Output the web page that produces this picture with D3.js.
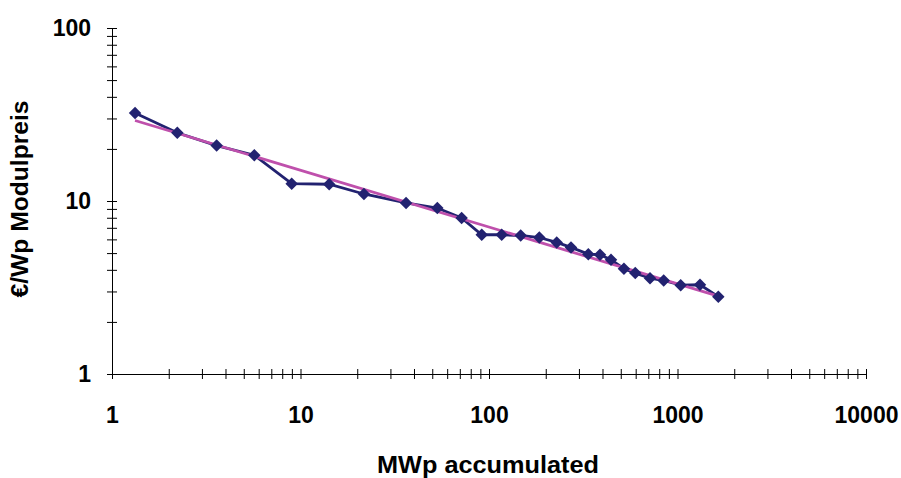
<!DOCTYPE html>
<html>
<head>
<meta charset="utf-8">
<script src="https://cdn.jsdelivr.net/npm/d3@7"></script>
<style>
  body { margin: 0; background: #fff; }
  text { font-family: Arial, "Liberation Sans", sans-serif; font-weight: bold; }
</style>
</head>
<body>
<script>
// Size and plot margins
var w = 901;
var h = 478;
var margin = {top: 28, right: 35, bottom: 104, left: 112};

// Data (MWp accumulated vs module price)
var mwp = [1.325, 2.22, 3.59, 5.69, 8.98, 14.2, 21.7, 36.3, 53.2, 71.6,
           91.5, 116.8, 147.3, 184.9, 228.7, 272.3, 336.4, 388, 443.8, 520,
           597, 714.8, 845, 1040, 1316, 1646];
var price = [32.3, 24.8, 20.9, 18.4, 12.6, 12.5, 10.98, 9.74, 9.11, 7.97,
             6.38, 6.38, 6.32, 6.15, 5.76, 5.39, 4.93, 4.89, 4.57, 4.06,
             3.83, 3.58, 3.47, 3.26, 3.28, 2.80];

// Trend line end points
var trendMwp = [1.325, 1646];
var trendPrice = [29.2, 2.82];

// Axis domains and labelled ticks
var xDomain = [1, 10000];
var yDomain = [1, 100];
var xMajor = [1, 10, 100, 1000, 10000];
var yMajor = [1, 10, 100];

var svg = d3.select("body").append("svg")
  .attr("width", w)
  .attr("height", h);

var x = d3.scaleLog().domain(xDomain).range([margin.left, w - margin.right]);
var y = d3.scaleLog().domain(yDomain).range([h - margin.bottom, margin.top]);

// Axes with ticks crossing the line
var xAxis = d3.axisBottom(x)
  .tickValues(x.ticks())
  .tickSize(5)
  .tickSizeOuter(0)
  .tickPadding(28)
  .tickFormat(function(d) { return xMajor.indexOf(d) >= 0 ? d : ""; });

var gx = svg.append("g")
  .attr("transform", "translate(0," + (h - margin.bottom) + ")")
  .call(xAxis);
gx.selectAll(".tick line").attr("y1", -5).attr("stroke", "#000");
gx.select(".domain").attr("stroke", "#000");
gx.selectAll("text").style("font-size", "23px").attr("fill", "#000");

var yAxis = d3.axisLeft(y)
  .tickValues(y.ticks())
  .tickSize(5)
  .tickSizeOuter(0)
  .tickPadding(16)
  .tickFormat(function(d) { return yMajor.indexOf(d) >= 0 ? d : ""; });

var gy = svg.append("g")
  .attr("transform", "translate(" + margin.left + ",0)")
  .call(yAxis);
gy.selectAll(".tick line").attr("x1", 5).attr("stroke", "#000");
gy.select(".domain").attr("stroke", "#000");
gy.selectAll("text").style("font-size", "23px").attr("fill", "#000");

// Axis titles
svg.append("text")
  .attr("x", 488)
  .attr("y", 473)
  .attr("text-anchor", "middle")
  .attr("textLength", 222)
  .attr("lengthAdjust", "spacingAndGlyphs")
  .style("font-size", "24px")
  .text("MWp accumulated");

svg.append("text")
  .attr("transform", "translate(28," + 199 + ") rotate(-90)")
  .attr("text-anchor", "middle")
  .attr("textLength", 197)
  .attr("lengthAdjust", "spacingAndGlyphs")
  .style("font-size", "24px")
  .text("€/Wp Modulpreis");

// Data line
var line = d3.line()
  .x(function(d) { return x(d[0]); })
  .y(function(d) { return y(d[1]); });

var pts = mwp.map(function(m, i) { return [m, price[i]]; });

svg.append("path")
  .datum(pts)
  .attr("d", line)
  .attr("fill", "none")
  .attr("stroke", "#222270")
  .attr("stroke-width", 2.8);

// Trend line
svg.append("path")
  .datum(trendMwp.map(function(m, i) { return [m, trendPrice[i]]; }))
  .attr("d", line)
  .attr("fill", "none")
  .attr("stroke", "#BF50AC")
  .attr("stroke-width", 2.8);

// Diamond markers
var diamond = d3.symbol().type(d3.symbolSquare).size(78);
svg.selectAll("path.marker")
  .data(pts)
  .enter().append("path")
  .attr("class", "marker")
  .attr("d", diamond)
  .attr("transform", function(d) {
    return "translate(" + x(d[0]) + "," + y(d[1]) + ") rotate(45)";
  })
  .attr("fill", "#222270");
</script>
</body>
</html>
